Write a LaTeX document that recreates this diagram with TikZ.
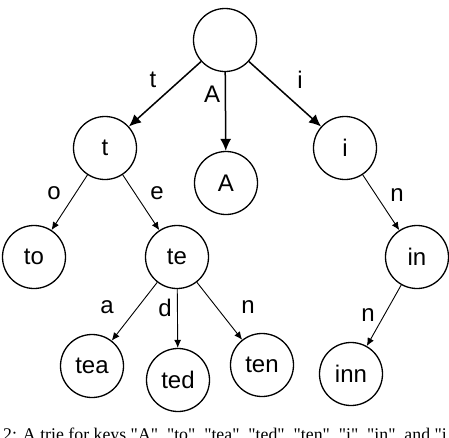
\documentclass[tikz,border=0pt]{standalone}
\usepackage{fontspec}
\setmainfont{Liberation Sans}
\newfontfamily\capfont{Liberation Serif}
\usetikzlibrary{arrows.meta}
\begin{document}
\begin{tikzpicture}[x=1pt,y=-1pt,
  trienode/.style={circle,draw,line width=1.3pt,minimum size=63pt,inner sep=0pt,font=\fontsize{24}{28}\selectfont},
  lbl/.style={font=\fontsize{24}{28}\selectfont,inner sep=0pt},
  bigedge/.style={line width=1.5pt,-{Latex[length=12pt,width=11pt]}},
  smalledge/.style={line width=0.9pt,-{Latex[length=8pt,width=7pt]}}]
\useasboundingbox (0,0) rectangle (449,437);
\clip (0,0) rectangle (449,437);
\node[trienode] (root) at (225,40) {};
\node[trienode] (t) at (105,148) {t};
\node[trienode] (A) at (226,183) {A};
\node[trienode] (i) at (345,148) {i};
\node[trienode] (to) at (34,257) {to};
\node[trienode] (te) at (177,257) {te};
\node[trienode] (in) at (417,257) {in};
\node[trienode] (tea) at (92,366) {tea};
\node[trienode] (ted) at (178,380) {ted};
\node[trienode] (ten) at (262,365) {ten};
\node[trienode] (inn) at (351,374) {inn};
\draw[bigedge] (root) -- (t);
\draw[bigedge] (root) -- (A);
\draw[bigedge] (root) -- (i);
\draw[smalledge] (t) -- (to);
\draw[smalledge] (t) -- (te);
\draw[smalledge] (i) -- (in);
\draw[smalledge] (te) -- (tea);
\draw[smalledge] (te) -- (ted);
\draw[smalledge] (te) -- (ten);
\draw[smalledge] (in) -- (inn);
\node[lbl] (lt) at (153,80) {t};
\node[lbl] (lA) at (212,94) {A};
\node[lbl] (li) at (300,80) {i};
\node[lbl] (lo) at (54,193) {o};
\node[lbl] (le) at (157,193) {e};
\node[lbl] (ln1) at (397,195) {n};
\node[lbl] (la) at (107,307) {a};
\node[lbl] (ld) at (165,308) {d};
\node[lbl] (ln2) at (248,307) {n};
\node[lbl] (ln3) at (368,315) {n};
\node[anchor=base west,inner sep=0pt,font=\capfont\fontsize{17.8}{21}\selectfont] (cap) at (3,440) {2: A trie for keys "A", "to", "tea", "ted", "ten", "i", "in", and "i};
\end{tikzpicture}
\end{document}
